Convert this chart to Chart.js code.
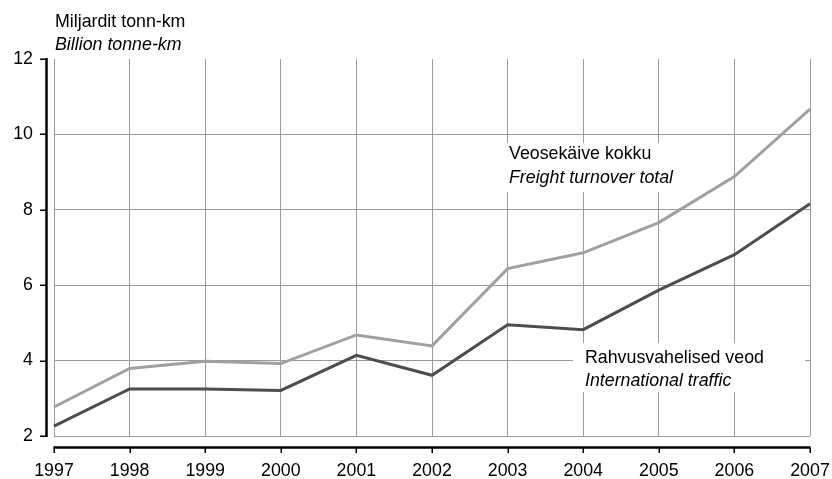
<!DOCTYPE html>
<html>
<head>
<meta charset="utf-8">
<script src="https://cdn.jsdelivr.net/npm/chart.js@4.4.1/dist/chart.umd.min.js"></script>
<style>
html,body{margin:0;padding:0;background:#fff;}
#wrap{width:832px;height:479px;position:relative;}
</style>
</head>
<body>
<div id="wrap"><canvas id="c" width="832" height="479"></canvas></div>
<script>
const years = ['1997','1998','1999','2000','2001','2002','2003','2004','2005','2006','2007'];
const totalTurnover = [2.77, 3.79, 3.98, 3.92, 4.68, 4.39, 6.44, 6.86, 7.66, 8.88, 10.67];
const internationalTraffic = [2.26, 3.25, 3.25, 3.21, 4.14, 3.61, 4.95, 4.82, 5.87, 6.81, 8.16];
const yTicks = [2, 4, 6, 8, 10, 12];
const titleLines = ['Miljardit tonn-km', 'Billion tonne-km'];
const totalLabel = ['Veosekäive kokku', 'Freight turnover total'];
const intlLabel = ['Rahvusvahelised veod', 'International traffic'];

const FONT = '"Liberation Sans", Arial, sans-serif';
const FS = 17.8;

const customDraw = {
  id: 'customDraw',
  beforeDatasetsDraw(chart) {
    const ctx = chart.ctx;
    const ca = chart.chartArea;
    ctx.save();
    ctx.fillStyle = '#ffffff';
    ctx.fillRect(ca.left + 446, 143, 200, 49);
    ctx.fillRect(ca.left + 519, 343, 232, 49);
    ctx.restore();
  },
  afterDraw(chart) {
    const ctx = chart.ctx;
    const ca = chart.chartArea;
    const xs = chart.scales.x, ys = chart.scales.y;
    ctx.save();
    ctx.strokeStyle = '#000';
    ctx.lineWidth = 2.5;
    ctx.beginPath();
    ctx.moveTo(ca.left - 7.5, ca.top - 1);
    ctx.lineTo(ca.left - 7.5, ca.bottom + 1);
    ctx.stroke();
    ctx.lineWidth = 1.5;
    yTicks.forEach(v => {
      const py = Math.round(ys.getPixelForValue(v)) + 0.25;
      ctx.beginPath();
      ctx.moveTo(ca.left - 14, py);
      ctx.lineTo(ca.left - 7.5, py);
      ctx.stroke();
    });
    ctx.lineWidth = 2.5;
    ctx.beginPath();
    ctx.moveTo(ca.left - 0.5, ca.bottom + 11.5);
    ctx.lineTo(ca.right + 0.5, ca.bottom + 11.5);
    ctx.stroke();
    ctx.lineWidth = 1.5;
    years.forEach((y, i) => {
      const px = Math.round(xs.getPixelForValue(i)) + 0.25;
      ctx.beginPath();
      ctx.moveTo(px, ca.bottom + 11.5);
      ctx.lineTo(px, ca.bottom + 17);
      ctx.stroke();
    });
    ctx.fillStyle = '#000';
    ctx.textAlign = 'left';
    ctx.textBaseline = 'alphabetic';
    ctx.font = FS + 'px ' + FONT;
    ctx.fillText(titleLines[0], 55, 27);
    ctx.font = 'italic ' + FS + 'px ' + FONT;
    ctx.fillText(titleLines[1], 55, 50);

    ctx.font = FS + 'px ' + FONT;
    ctx.fillText(totalLabel[0], 509, 159);
    ctx.font = 'italic ' + FS + 'px ' + FONT;
    ctx.fillText(totalLabel[1], 509, 183);

    ctx.font = FS + 'px ' + FONT;
    ctx.fillText(intlLabel[0], 585, 363);
    ctx.font = 'italic ' + FS + 'px ' + FONT;
    ctx.fillText(intlLabel[1], 585, 386);
    ctx.restore();
  }
};

new Chart(document.getElementById('c'), {
  type: 'line',
  data: {
    labels: years,
    datasets: [
      {
        label: totalLabel[1],
        data: totalTurnover,
        borderColor: '#a0a0a0',
        borderWidth: 3,
        pointRadius: 0,
        tension: 0,
        fill: false
      },
      {
        label: intlLabel[1],
        data: internationalTraffic,
        borderColor: '#4d4d4d',
        borderWidth: 3,
        pointRadius: 0,
        tension: 0,
        fill: false
      }
    ]
  },
  options: {
    responsive: false,
    animation: false,
    devicePixelRatio: 1,
    layout: { padding: { top: 59, right: 22, left: 0, bottom: 0 } },
    plugins: {
      legend: { display: false },
      title: { display: false },
      tooltip: { enabled: false }
    },
    scales: {
      x: {
        type: 'category',
        offset: false,
        afterFit(s) { s.height = 43; s.paddingLeft = 0; s.paddingRight = 0; },
        border: { display: false },
        grid: {
          color: '#9a9a9a',
          lineWidth: 1,
          drawTicks: false
        },
        ticks: {
          color: '#000',
          padding: 24,
          maxRotation: 0,
          autoSkip: false,
          font: { family: FONT, size: FS }
        }
      },
      y: {
        min: 2,
        max: 12,
        afterFit(s) { s.width = 54; s.paddingTop = 0; s.paddingBottom = 0; },
        afterBuildTicks(s) { s.ticks = yTicks.map(v => ({ value: v })); },
        border: { display: false },
        grid: {
          color: ctx => (ctx.tick && ctx.tick.value === 12) ? 'rgba(0,0,0,0)' : '#9a9a9a',
          lineWidth: 1,
          drawTicks: false
        },
        ticks: {
          color: '#000',
          padding: 21,
          font: { family: FONT, size: FS }
        }
      }
    }
  },
  plugins: [customDraw]
});
</script>
</body>
</html>
